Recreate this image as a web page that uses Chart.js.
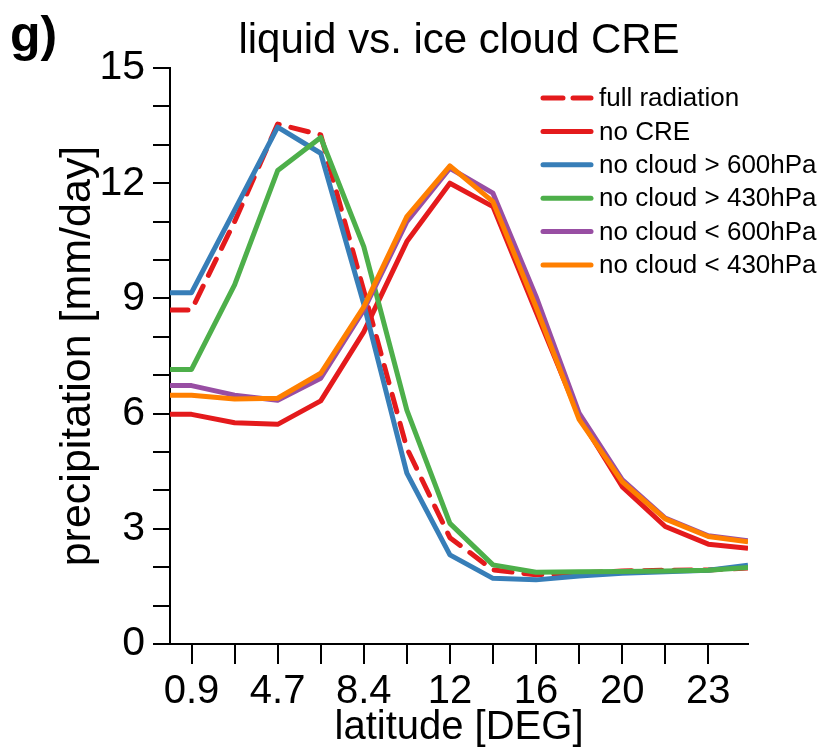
<!DOCTYPE html>
<html>
<head>
<meta charset="utf-8">
<title>liquid vs. ice cloud CRE</title>
<script src="https://cdn.jsdelivr.net/npm/chart.js@4.4.1/dist/chart.umd.min.js"></script>
<style>
  html, body { margin: 0; padding: 0; background: #fff; }
  canvas { display: block; }
</style>
</head>
<body>
<canvas id="creChart" width="825" height="753"></canvas>
<script>
// latitude of each grid point [DEG]
const latitude = [0, 0.935, 2.805, 4.675, 6.545, 8.415, 10.285, 12.155, 14.025, 15.895, 17.765, 19.635, 21.505, 23.375, 25.1];
// x-axis ticks sit on grid points 1..13, every other one labelled
const xTickLabels = ['0.9', '', '4.7', '', '8.4', '', '12', '', '16', '', '20', '', '23'];
const yTickLabels = ['0', '3', '6', '9', '12', '15'];

// precipitation [mm/day]
const fullRadiation = [8.70, 8.70, 11.0, 13.54, 13.26, 9.2, 5.1, 2.77, 1.93, 1.80, 1.85, 1.90, 1.92, 1.93, 1.98];
const noCRE         = [5.98, 5.98, 5.76, 5.72, 6.33, 8.13, 10.48, 12.0, 11.39, 8.65, 5.92, 4.10, 3.06, 2.60, 2.49];
const noCloudGt600  = [9.15, 9.15, 11.3, 13.46, 12.78, 8.85, 4.45, 2.32, 1.71, 1.67, 1.77, 1.84, 1.88, 1.92, 2.05];
const noCloudGt430  = [7.15, 7.15, 9.35, 12.33, 13.19, 10.35, 6.09, 3.14, 2.06, 1.87, 1.88, 1.89, 1.90, 1.92, 1.99];
const noCloudLt600  = [6.73, 6.73, 6.48, 6.35, 6.92, 8.70, 11.0, 12.39, 11.74, 9.05, 6.01, 4.28, 3.28, 2.82, 2.69];
const noCloudLt430  = [6.48, 6.48, 6.38, 6.40, 7.05, 8.78, 11.13, 12.45, 11.52, 8.78, 5.85, 4.23, 3.26, 2.80, 2.66];

const FONT = "'Liberation Sans', Arial, Helvetica, sans-serif";

function toPoints(values) {
    return values.map((v, i) => ({ x: latitude[i], y: v }));
}

function line(label, values, color, order, dashed) {
    return {
        label: label,
        data: toPoints(values),
        borderColor: color,
        backgroundColor: color,
        borderWidth: 5,
        borderDash: dashed ? [18, 12] : [],
        borderCapStyle: dashed ? 'round' : 'butt',
        borderJoinStyle: 'round',
        pointRadius: 0,
        tension: 0,
        fill: false,
        order: order
    };
}

// NCL style legend inside the plot, upper right
const insideLegend = {
    id: 'insideLegend',
    afterDraw(chart) {
        const ctx = chart.ctx;
        ctx.save();
        ctx.font = '26px ' + FONT;
        ctx.textBaseline = 'middle';
        ctx.textAlign = 'left';
        chart.data.datasets.forEach((ds, i) => {
            const y = 98 + i * 33.4;
            ctx.strokeStyle = ds.borderColor;
            ctx.lineWidth = 5;
            ctx.lineCap = 'round';
            ctx.setLineDash(ds.borderDash.length ? [20, 10] : []);
            ctx.beginPath();
            ctx.moveTo(543, y);
            ctx.lineTo(591, y);
            ctx.stroke();
            ctx.setLineDash([]);
            ctx.fillStyle = '#000';
            ctx.fillText(ds.label, 599, y + 1);
        });
        // panel letter
        ctx.font = 'bold 50px ' + FONT;
        ctx.textBaseline = 'alphabetic';
        ctx.fillText('g)', 10, 51);
        ctx.restore();
    }
};

const ctx = document.getElementById('creChart').getContext('2d');
new Chart(ctx, {
    type: 'line',
    data: {
        datasets: [
            line('full radiation', fullRadiation, '#e41a1c', 5, true),
            line('no CRE', noCRE, '#e41a1c', 4, false),
            line('no cloud > 600hPa', noCloudGt600, '#377eb8', 3, false),
            line('no cloud > 430hPa', noCloudGt430, '#4daf4a', 2, false),
            line('no cloud < 600hPa', noCloudLt600, '#984ea3', 1, false),
            line('no cloud < 430hPa', noCloudLt430, '#ff7f00', 0, false)
        ]
    },
    options: {
        responsive: false,
        devicePixelRatio: 1,
        animation: false,
        layout: { padding: { left: 0, right: 77, top: 0, bottom: 0 } },
        plugins: {
            legend: { display: false },
            tooltip: { enabled: false },
            title: {
                display: true,
                text: 'liquid vs. ice cloud CRE',
                color: '#000',
                fullSize: false,
                font: { family: FONT, size: 42, weight: 'normal' },
                padding: { top: 16, bottom: 1.6 }
            }
        },
        scales: {
            x: {
                type: 'linear',
                min: latitude[0],
                max: latitude[latitude.length - 1],
                afterBuildTicks: (scale) => {
                    scale.ticks = latitude.slice(1, 1 + xTickLabels.length).map(v => ({ value: v }));
                },
                afterFit: (scale) => { scale.height = 109; },
                ticks: {
                    autoSkip: false,
                    maxRotation: 0,
                    color: '#000',
                    padding: 4,
                    font: { family: FONT, size: 40 },
                    callback: (value, index) => xTickLabels[index]
                },
                grid: { drawOnChartArea: false, drawTicks: true, tickLength: 20, color: '#000', lineWidth: 2 },
                border: { display: true, color: '#000', width: 2 },
                title: {
                    display: true,
                    text: 'latitude [DEG]',
                    color: '#000',
                    font: { family: FONT, size: 40 },
                    padding: { top: 0, bottom: 1 }
                }
            },
            y: {
                min: 0,
                max: 15,
                afterFit: (scale) => { scale.width = 170; },
                ticks: {
                    stepSize: 1,
                    autoSkip: false,
                    color: '#000',
                    padding: 8,
                    font: { family: FONT, size: 41 },
                    callback: (value) => yTickLabels.includes(String(value)) ? String(value) : ''
                },
                grid: { drawOnChartArea: false, drawTicks: true, tickLength: 17, color: '#000', lineWidth: 2 },
                border: { display: true, color: '#000', width: 2 },
                title: {
                    display: true,
                    text: 'precipitation [mm/day]',
                    color: '#000',
                    font: { family: FONT, size: 43 },
                    padding: { top: 52, bottom: 52 }
                }
            }
        }
    },
    plugins: [insideLegend]
});
</script>
</body>
</html>
